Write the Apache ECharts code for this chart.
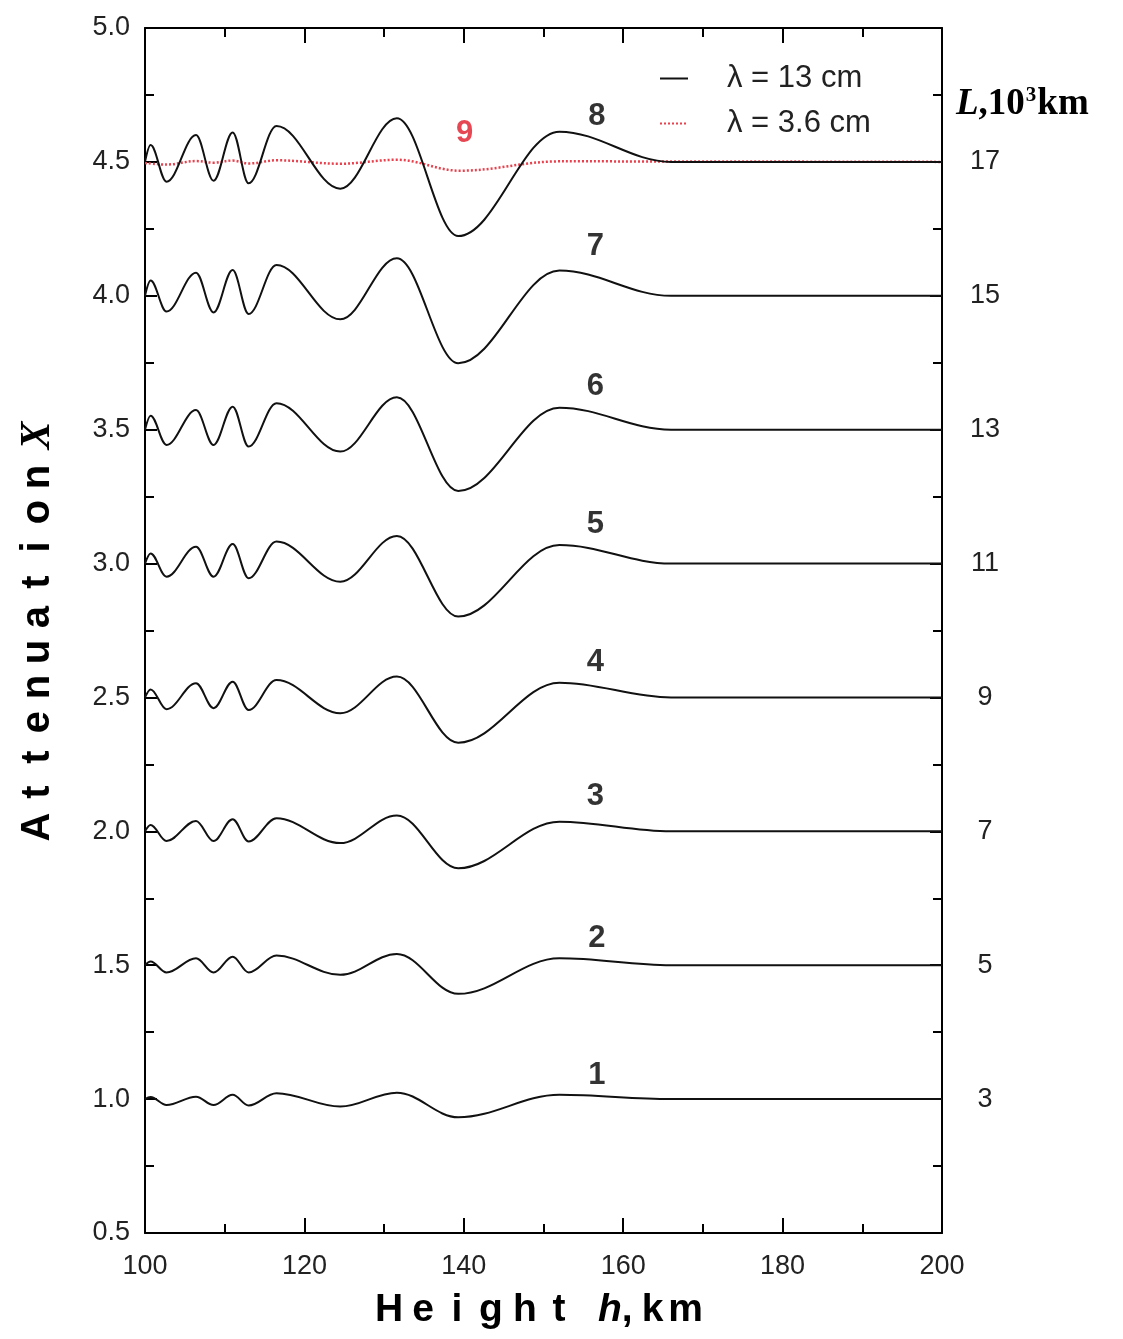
<!DOCTYPE html>
<html>
<head>
<meta charset="utf-8">
<script src="https://cdn.jsdelivr.net/npm/echarts@6/dist/echarts.min.js"></script>
<style>
html,body{margin:0;padding:0;background:#fff;}
#chart{width:1123px;height:1339px;}
</style>
</head>
<body>
<div id="chart"></div>
<script>
// Heights (km) of the turning points read for curves 1-8
const H = [100, 100.7, 102.7, 106.4, 108.6, 111.0, 113.0, 116.5, 124.5, 131.6, 139.3, 152.0, 166.0, 200];

// lambda = 13 cm curves (attenuation X)
const curve1 = [1.000, 1.008, 0.978, 1.009, 0.978, 1.016, 0.976, 1.022, 0.972, 1.024, 0.932, 1.016, 1.0, 1.0];
const curve2 = [1.500, 1.514, 1.473, 1.526, 1.473, 1.532, 1.473, 1.536, 1.464, 1.542, 1.393, 1.526, 1.5, 1.5];
const curve3 = [2.000, 2.024, 1.964, 2.039, 1.964, 2.045, 1.962, 2.049, 1.956, 2.059, 1.862, 2.036, 2.0, 2.0];
const curve4 = [2.500, 2.530, 2.456, 2.553, 2.460, 2.559, 2.453, 2.565, 2.441, 2.578, 2.331, 2.555, 2.5, 2.5];
const curve5 = [3.000, 3.038, 2.951, 3.063, 2.951, 3.073, 2.945, 3.082, 2.932, 3.103, 2.802, 3.069, 3.0, 3.0];
const curve6 = [3.500, 3.552, 3.443, 3.573, 3.443, 3.586, 3.437, 3.599, 3.418, 3.621, 3.271, 3.582, 3.5, 3.5];
const curve7 = [4.000, 4.057, 3.941, 4.086, 3.938, 4.096, 3.932, 4.115, 3.912, 4.140, 3.748, 4.094, 4.0, 4.0];
const curve8 = [4.500, 4.563, 4.426, 4.600, 4.430, 4.610, 4.420, 4.634, 4.400, 4.663, 4.223, 4.613, 4.5, 4.5];

// lambda = 3.6 cm curve (9)
const H9 = [100, 102.7, 106.4, 108.6, 111, 113, 116.5, 124.5, 131.6, 139.5, 152, 200];
const curve9 = [4.496, 4.490, 4.503, 4.497, 4.505, 4.494, 4.506, 4.493, 4.508, 4.467, 4.502, 4.500];

// Curve number labels
const curveLabels = ['1', '2', '3', '4', '5', '6', '7', '8'];
const curveLabelX = [156.7, 156.7, 156.5, 156.5, 156.5, 156.5, 156.5, 156.7];
const curveLabelY = [1.088, 1.600, 2.130, 2.630, 3.145, 3.660, 4.183, 4.668];
const label9 = { x: 140.1, y: 4.608, text: '9' };

// Right axis: L, 10^3 km at each curve baseline
const baseValues = [1.0, 1.5, 2.0, 2.5, 3.0, 3.5, 4.0, 4.5];
const lValues = ['3', '5', '7', '9', '11', '13', '15', '17'];

const NAME13 = 'λ = 13 cm';
const NAME36 = 'λ = 3.6 cm';
const SANS = '"Liberation Sans", Arial, sans-serif';
const SERIF = '"Liberation Serif", "Times New Roman", serif';

const blackCurves = [curve1, curve2, curve3, curve4, curve5, curve6, curve7, curve8];

const series = blackCurves.map(c => ({
  name: NAME13,
  type: 'line',
  data: H.map((h, i) => [h, c[i]]),
  smooth: 0.36,
  smoothMonotone: 'x',
  symbol: 'none',
  showSymbol: false,
  itemStyle: { color: '#111' },
  lineStyle: { color: '#111', width: 2 },
  z: 3
}));

series.push({
  name: NAME36,
  type: 'line',
  data: H9.map((h, i) => [h, curve9[i]]),
  smooth: 0.36,
  smoothMonotone: 'x',
  symbol: 'none',
  showSymbol: false,
  itemStyle: { color: '#e8404c' },
  lineStyle: { color: '#e8404c', width: 2.5, type: [2, 2] },
  z: 2
});

series.push({
  name: 'labels',
  type: 'scatter',
  symbolSize: 0,
  itemStyle: { color: '#000' },
  data: curveLabels.map((t, i) => ({ value: [curveLabelX[i], curveLabelY[i]], name: t })),
  label: {
    show: true, position: 'inside', formatter: p => p.name,
    fontSize: 31, fontWeight: 'bold', color: '#000', fontFamily: SANS
  },
  z: 5
});

series.push({
  name: 'label9',
  type: 'scatter',
  symbolSize: 0,
  itemStyle: { color: '#e0202c' },
  data: [{ value: [label9.x, label9.y], name: label9.text }],
  label: {
    show: true, position: 'inside', formatter: p => p.name,
    fontSize: 31, fontWeight: 'bold', color: '#e01a28', fontFamily: SANS
  },
  z: 5
});

const axisCommon = {
  axisLine: { show: true, lineStyle: { color: '#000', width: 2 } },
  splitLine: { show: false }
};

function charsRich(str, tag) {
  return str.split('').map(ch => '{' + tag + '|' + ch + '}').join('');
}

const chart = echarts.init(document.getElementById('chart'), null, { renderer: 'canvas' });
chart.setOption({
  animation: false,
  backgroundColor: '#fff',
  grid: { left: 145, right: 181, top: 28, bottom: 106, containLabel: false },
  legend: {
    data: [NAME13, NAME36],
    orient: 'vertical',
    left: 654,
    top: 58,
    itemWidth: 28,
    itemHeight: 14,
    itemGap: 14,
    itemStyle: { opacity: 0 },
    textStyle: { fontSize: 31, color: '#222', fontFamily: SANS, padding: [0, 0, 0, 34] }
  },
  xAxis: [
    Object.assign({}, axisCommon, {
      type: 'value', position: 'bottom', min: 100, max: 200, interval: 20,
      axisTick: { show: true, inside: true, length: 15, lineStyle: { color: '#000', width: 2 } },
      minorTick: { show: true, splitNumber: 2, length: 9, lineStyle: { color: '#000', width: 2 } },
      axisLabel: { fontSize: 27, color: '#222', margin: 20, fontFamily: SANS }
    }),
    Object.assign({}, axisCommon, {
      type: 'value', position: 'top', min: 100, max: 200, interval: 20,
      axisTick: { show: true, inside: true, length: 15, lineStyle: { color: '#000', width: 2 } },
      minorTick: { show: true, splitNumber: 2, length: 9, lineStyle: { color: '#000', width: 2 } },
      axisLabel: { show: false }
    })
  ],
  yAxis: [
    Object.assign({}, axisCommon, {
      type: 'value', position: 'left', min: 0.5, max: 5, interval: 0.5,
      axisTick: { show: true, inside: true, length: 12, lineStyle: { color: '#000', width: 2 } },
      minorTick: { show: true, splitNumber: 2, length: 9, lineStyle: { color: '#000', width: 2 } },
      axisLabel: { fontSize: 27, color: '#222', margin: 15, fontFamily: SANS, formatter: v => v.toFixed(1) }
    }),
    Object.assign({}, axisCommon, {
      type: 'value', position: 'right', min: 0.5, max: 5, interval: 0.5,
      axisTick: { show: true, inside: true, length: 12, lineStyle: { color: '#000', width: 2 } },
      minorTick: { show: true, splitNumber: 2, length: 9, lineStyle: { color: '#000', width: 2 } },
      axisLabel: {
        fontSize: 27, color: '#222', margin: 43, align: 'center', fontFamily: SANS,
        formatter: v => {
          const idx = baseValues.findIndex(b => Math.abs(b - v) < 1e-6);
          return idx >= 0 ? lValues[idx] : '';
        }
      }
    })
  ],
  graphic: [
    {
      type: 'text',
      x: 38, y: 633,
      rotation: Math.PI / 2,
      style: {
        text: charsRich('Attenuation', 'c') + '{g|}{x|X}',
        align: 'center', verticalAlign: 'middle',
        rich: {
          c: { width: 35, align: 'center', fontSize: 40, fontWeight: 'bold', fontFamily: SANS, fill: '#000' },
          g: { width: 10 },
          x: { fontSize: 42, fontWeight: 'bold', fontStyle: 'italic', fontFamily: SERIF, fill: '#000' }
        }
      }
    },
    {
      type: 'text',
      x: 372, y: 1310,
      style: {
        text: charsRich('Height', 'c') + '{g|}{h|h}{k|,}{g2|}{kk|k}{mm|m}',
        align: 'left', verticalAlign: 'middle',
        rich: {
          c: { width: 34, align: 'center', fontSize: 39, fontWeight: 'bold', fontFamily: SANS, fill: '#000' },
          g: { width: 22 },
          h: { fontSize: 39, fontWeight: 'bold', fontStyle: 'italic', fontFamily: SANS, fill: '#000' },
          k: { fontSize: 39, fontWeight: 'bold', fontFamily: SANS, fill: '#000' },
          g2: { width: 8 },
          kk: { width: 24, align: 'center', fontSize: 39, fontWeight: 'bold', fontFamily: SANS, fill: '#000' },
          mm: { width: 42, align: 'center', fontSize: 39, fontWeight: 'bold', fontFamily: SANS, fill: '#000' }
        }
      }
    },
    {
      type: 'text',
      x: 956, y: 104,
      style: {
        text: '{L|L}{n|,10}{s|3}{n|km}',
        align: 'left', verticalAlign: 'middle',
        rich: {
          L: { fontSize: 37, fontWeight: 'bold', fontStyle: 'italic', fontFamily: SERIF, fill: '#000' },
          n: { fontSize: 37, fontWeight: 'bold', fontFamily: SERIF, fill: '#000' },
          s: { fontSize: 21, fontWeight: 'bold', fontFamily: SERIF, fill: '#000', verticalAlign: 'top', padding: [0, 1, 16, 1] }
        }
      }
    }
  ],
  series: series
});
</script>
</body>
</html>
